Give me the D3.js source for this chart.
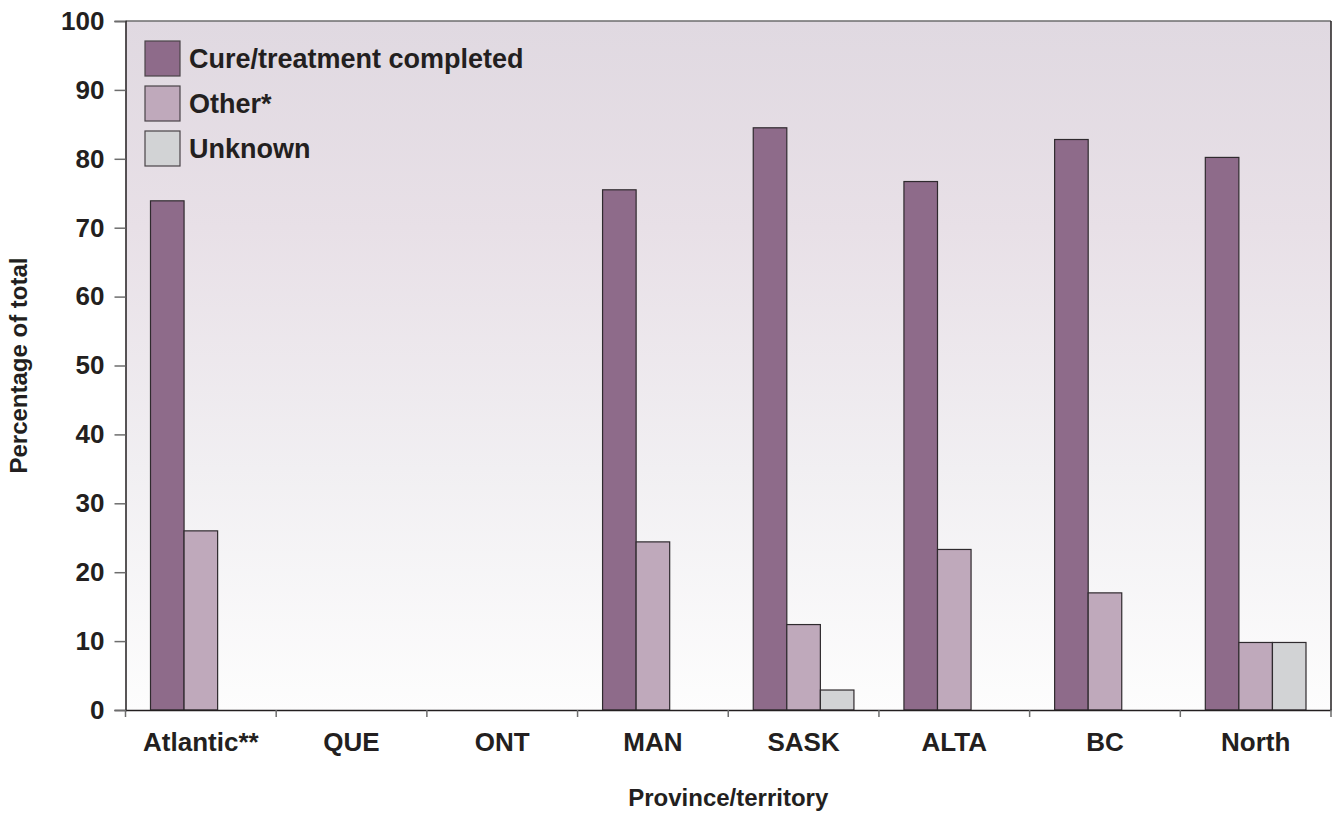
<!DOCTYPE html>
<html>
<head>
<meta charset="utf-8">
<script src="https://cdn.jsdelivr.net/npm/d3@7"></script>
<style>
  html, body { margin: 0; padding: 0; background: #fff; }
  svg text { font-family: "Liberation Sans", Arial, Helvetica, sans-serif; font-weight: bold; fill: #231f20; }
</style>
</head>
<body>
<div id="chart"></div>
<script>
const provinces = ["Atlantic**", "QUE", "ONT", "MAN", "SASK", "ALTA", "BC", "North"];
const seriesNames = ["Cure/treatment completed", "Other*", "Unknown"];
const cureValues = [73.9, 0, 0, 75.5, 84.5, 76.7, 82.8, 80.2];
const otherValues = [26.0, 0, 0, 24.4, 12.4, 23.3, 17.0, 9.8];
const unknownValues = [0, 0, 0, 0, 2.9, 0, 0, 9.8];
const yTicks = [0, 10, 20, 30, 40, 50, 60, 70, 80, 90, 100];
const seriesColors = ["#8e6b8a", "#bfa9bb", "#d2d3d5"];

const width = 1333;
const height = 815;
const margin = { top: 21, right: 2, bottom: 105, left: 125.5 };

const svg = d3.select("#chart")
  .append("svg")
  .attr("width", width)
  .attr("height", height);

// background gradient of the plot area
const defs = svg.append("defs");
const grad = defs.append("linearGradient")
  .attr("id", "bg")
  .attr("x1", 0).attr("y1", 0).attr("x2", 0).attr("y2", 1);
grad.append("stop").attr("offset", "0%").attr("stop-color", "#e0d9e1");
grad.append("stop").attr("offset", "30%").attr("stop-color", "#e8e0e7");
grad.append("stop").attr("offset", "65%").attr("stop-color", "#f1eff2");
grad.append("stop").attr("offset", "100%").attr("stop-color", "#fdfdfd");

const x0 = d3.scaleBand()
  .domain(provinces)
  .range([margin.left, width - margin.right])
  .paddingInner(0)
  .paddingOuter(0);

const x1 = d3.scaleBand()
  .domain(seriesNames)
  .range([25, x0.bandwidth() - 25]);

const y = d3.scaleLinear()
  .domain([0, 100])
  .range([height - margin.bottom, margin.top]);

const data = provinces.map((p, i) => ({
  province: p,
  values: [cureValues[i], otherValues[i], unknownValues[i]]
}));

// plot area
svg.append("rect")
  .attr("x", margin.left)
  .attr("y", y(100))
  .attr("width", width - margin.right - margin.left)
  .attr("height", y(0) - y(100))
  .attr("fill", "url(#bg)");

// top and right border
svg.append("line")
  .attr("x1", margin.left).attr("x2", width - margin.right)
  .attr("y1", y(100)).attr("y2", y(100))
  .attr("stroke", "#6d6d6d").attr("stroke-width", 1.5);
svg.append("line")
  .attr("x1", width - margin.right).attr("x2", width - margin.right)
  .attr("y1", y(100)).attr("y2", y(0))
  .attr("stroke", "#231f20").attr("stroke-width", 1.5);

// bars
const groups = svg.selectAll("g.group")
  .data(data)
  .enter()
  .append("g")
  .attr("class", "group")
  .attr("transform", (d) => `translate(${x0(d.province)},0)`);

groups.selectAll("rect")
  .data((d) => d.values.map((v, j) => ({ key: seriesNames[j], value: v, j })))
  .enter()
  .filter((d) => d.value > 0)
  .append("rect")
  .attr("x", (d) => x1(d.key))
  .attr("y", (d) => y(d.value))
  .attr("width", x1.bandwidth())
  .attr("height", (d) => y(0) - y(d.value))
  .attr("fill", (d) => seriesColors[d.j])
  .attr("stroke", "#2f2a2e")
  .attr("stroke-width", 1.2);

// y axis
const yAxis = svg.append("g")
  .attr("transform", `translate(${margin.left},0)`)
  .call(d3.axisLeft(y).tickValues(yTicks).tickSize(11).tickPadding(10));
yAxis.select(".domain").attr("stroke", "#231f20").attr("stroke-width", 1.5);
yAxis.selectAll(".tick line").attr("stroke", "#6d6d6d").attr("stroke-width", 1.5);
yAxis.selectAll(".tick text").style("font-size", "26px").attr("fill", "#231f20");

// x axis
const xAxis = svg.append("g")
  .attr("transform", `translate(0,${y(0)})`)
  .call(d3.axisBottom(x0).tickSize(0).tickPadding(23));
xAxis.select(".domain").attr("stroke", "#231f20").attr("stroke-width", 1.5);
xAxis.selectAll(".tick text").style("font-size", "26px").attr("fill", "#231f20");

// category boundary ticks
const bounds = provinces.map((p) => x0(p)).concat([width - margin.right]);
svg.append("g")
  .selectAll("line")
  .data(bounds)
  .enter()
  .append("line")
  .attr("x1", (d) => d).attr("x2", (d) => d)
  .attr("y1", y(0)).attr("y2", y(0) + 7)
  .attr("stroke", "#6d6d6d").attr("stroke-width", 1.5);

// axis titles
svg.append("text")
  .attr("x", (margin.left + width - margin.right) / 2)
  .attr("y", 806)
  .attr("text-anchor", "middle")
  .style("font-size", "24px")
  .text("Province/territory");

svg.append("text")
  .attr("transform", `translate(27,${y(50)}) rotate(-90)`)
  .attr("text-anchor", "middle")
  .style("font-size", "24px")
  .text("Percentage of total");

// legend
const legend = svg.append("g").attr("transform", "translate(145,41)");
const items = legend.selectAll("g")
  .data(seriesNames)
  .enter()
  .append("g")
  .attr("transform", (d, i) => `translate(0,${i * 45})`);
items.append("rect")
  .attr("width", 35).attr("height", 35)
  .attr("fill", (d, i) => seriesColors[i])
  .attr("stroke", "#4a4448").attr("stroke-width", 1.2);
items.append("text")
  .attr("x", 44).attr("y", 17.5)
  .attr("dy", "0.35em")
  .style("font-size", "27px")
  .text((d) => d);
</script>
</body>
</html>
